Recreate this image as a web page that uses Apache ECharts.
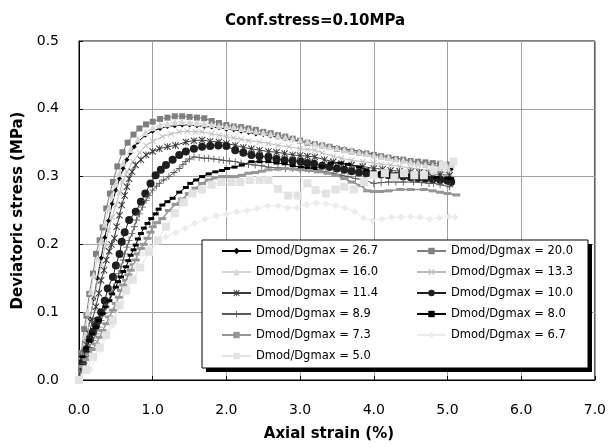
<!DOCTYPE html>
<html><head><meta charset="utf-8">
<script src="https://cdn.jsdelivr.net/npm/echarts@6/dist/echarts.min.js"></script>
<style>html,body{margin:0;padding:0;background:#fff}#c{width:609px;height:447px}</style>
</head><body><div id="c"></div>
<script>
// ---------- DATA ----------
const titleText = 'Conf.stress=0.10MPa';
const xAxisTitle = 'Axial strain (%)';
const yAxisTitle = 'Deviatoric stress (MPa)';
const xTicks = [0, 1, 2, 3, 4, 5, 6, 7];
const yTicks = [0, 0.1, 0.2, 0.3, 0.4, 0.5];
const seriesNames = ['Dmod/Dgmax = 26.7','Dmod/Dgmax = 20.0','Dmod/Dgmax = 16.0','Dmod/Dgmax = 13.3',
  'Dmod/Dgmax = 11.4','Dmod/Dgmax = 10.0','Dmod/Dgmax = 8.9','Dmod/Dgmax = 8.0',
  'Dmod/Dgmax = 7.3','Dmod/Dgmax = 6.7','Dmod/Dgmax = 5.0'];

const s26_7 = [[0,0],[0.05,0.03],[0.1,0.06],[0.15,0.09],[0.2,0.12],[0.25,0.15],[0.3,0.18],[0.35,0.21],[0.4,0.235],[0.45,0.26],[0.5,0.28],[0.55,0.297],[0.6,0.312],[0.65,0.325],[0.7,0.335],[0.75,0.344],[0.8,0.351],[0.9,0.361],[1.0,0.367],[1.1,0.371],[1.2,0.374],[1.3,0.375],[1.4,0.376],[1.5,0.376],[1.6,0.375],[1.7,0.374],[1.8,0.373],[1.9,0.372],[2.0,0.37],[2.1,0.369],[2.2,0.367],[2.3,0.365],[2.4,0.363],[2.5,0.362],[2.6,0.36],[2.7,0.358],[2.8,0.356],[2.9,0.354],[3.0,0.352],[3.1,0.35],[3.2,0.348],[3.3,0.347],[3.4,0.345],[3.5,0.343],[3.6,0.341],[3.7,0.339],[3.8,0.337],[3.9,0.335],[4.0,0.333],[4.1,0.331],[4.2,0.329],[4.3,0.327],[4.4,0.325],[4.5,0.323],[4.6,0.321],[4.7,0.319],[4.8,0.317],[4.9,0.315],[5.0,0.313],[5.05,0.311]];
const s20_0 = [[0,0],[0.03,0.04],[0.07,0.075],[0.1,0.095],[0.14,0.127],[0.19,0.157],[0.23,0.186],[0.28,0.206],[0.32,0.225],[0.37,0.253],[0.42,0.275],[0.46,0.292],[0.52,0.315],[0.59,0.336],[0.66,0.35],[0.74,0.362],[0.82,0.371],[0.91,0.377],[1.0,0.381],[1.1,0.385],[1.2,0.387],[1.3,0.389],[1.4,0.389],[1.5,0.388],[1.6,0.387],[1.7,0.386],[1.8,0.382],[1.9,0.379],[2.0,0.376],[2.1,0.374],[2.2,0.373],[2.3,0.371],[2.4,0.369],[2.5,0.366],[2.6,0.364],[2.7,0.361],[2.8,0.359],[2.9,0.356],[3.0,0.353],[3.1,0.35],[3.2,0.348],[3.3,0.346],[3.4,0.344],[3.5,0.341],[3.6,0.339],[3.7,0.337],[3.8,0.335],[3.9,0.334],[4.0,0.332],[4.1,0.33],[4.2,0.328],[4.3,0.326],[4.4,0.325],[4.5,0.323],[4.6,0.322],[4.7,0.321],[4.8,0.32],[4.9,0.319],[5.0,0.318],[5.05,0.317]];
const s16_0 = [[0,0],[0.04,0.035],[0.08,0.065],[0.12,0.1],[0.16,0.13],[0.2,0.155],[0.25,0.18],[0.3,0.205],[0.35,0.23],[0.4,0.253],[0.45,0.272],[0.5,0.29],[0.55,0.305],[0.6,0.32],[0.7,0.34],[0.8,0.355],[0.9,0.365],[1.0,0.372],[1.1,0.376],[1.2,0.378],[1.3,0.38],[1.4,0.381],[1.5,0.38],[1.6,0.379],[1.7,0.378],[1.8,0.377],[1.9,0.375],[2.0,0.374],[2.1,0.373],[2.2,0.371],[2.3,0.369],[2.4,0.367],[2.5,0.365],[2.6,0.363],[2.7,0.36],[2.8,0.358],[2.9,0.356],[3.0,0.354],[3.1,0.352],[3.2,0.349],[3.3,0.347],[3.4,0.344],[3.5,0.342],[3.6,0.34],[3.7,0.338],[3.8,0.336],[3.9,0.334],[4.0,0.332],[4.1,0.33],[4.2,0.328],[4.3,0.326],[4.4,0.324],[4.5,0.322],[4.6,0.32],[4.7,0.318],[4.8,0.316],[4.9,0.315],[5.0,0.314],[5.05,0.318]];
const s13_3 = [[0,0],[0.05,0.03],[0.1,0.06],[0.15,0.09],[0.2,0.12],[0.25,0.145],[0.3,0.17],[0.35,0.195],[0.4,0.22],[0.45,0.24],[0.5,0.258],[0.55,0.276],[0.59,0.292],[0.65,0.307],[0.73,0.322],[0.82,0.335],[0.91,0.346],[1.0,0.352],[1.13,0.359],[1.25,0.363],[1.36,0.366],[1.47,0.367],[1.58,0.366],[1.67,0.366],[1.8,0.363],[1.9,0.361],[2.0,0.359],[2.1,0.357],[2.2,0.355],[2.3,0.353],[2.45,0.351],[2.57,0.349],[2.7,0.346],[2.85,0.344],[3.0,0.341],[3.1,0.34],[3.2,0.339],[3.3,0.335],[3.45,0.33],[3.56,0.327],[3.7,0.324],[3.85,0.322],[4.0,0.32],[4.1,0.318],[4.23,0.317],[4.35,0.315],[4.5,0.313],[4.6,0.311],[4.75,0.309],[4.9,0.307],[5.03,0.305]];
const s11_4 = [[0,0],[0.05,0.034],[0.1,0.052],[0.14,0.068],[0.18,0.088],[0.23,0.108],[0.27,0.128],[0.3,0.147],[0.34,0.162],[0.37,0.177],[0.41,0.19],[0.44,0.2],[0.48,0.209],[0.51,0.226],[0.55,0.243],[0.58,0.258],[0.62,0.272],[0.65,0.285],[0.68,0.297],[0.72,0.307],[0.77,0.317],[0.84,0.325],[0.91,0.332],[1.0,0.337],[1.09,0.341],[1.2,0.344],[1.31,0.346],[1.45,0.351],[1.56,0.353],[1.67,0.354],[1.78,0.352],[1.9,0.351],[2.0,0.349],[2.12,0.346],[2.23,0.343],[2.34,0.341],[2.45,0.339],[2.57,0.337],[2.68,0.336],[2.79,0.334],[2.9,0.332],[3.0,0.331],[3.1,0.33],[3.2,0.329],[3.33,0.325],[3.45,0.322],[3.56,0.319],[3.7,0.317],[3.85,0.315],[4.0,0.312],[4.12,0.311],[4.23,0.309],[4.35,0.308],[4.5,0.307],[4.62,0.306],[4.75,0.305],[4.9,0.303],[5.03,0.302]];
const s10_0 = [[0,0],[0.05,0.025],[0.1,0.045],[0.15,0.06],[0.19,0.071],[0.23,0.08],[0.26,0.088],[0.3,0.1],[0.35,0.117],[0.39,0.135],[0.46,0.152],[0.5,0.169],[0.55,0.186],[0.58,0.204],[0.62,0.218],[0.68,0.236],[0.77,0.248],[0.84,0.263],[0.9,0.275],[0.97,0.29],[1.04,0.302],[1.11,0.31],[1.18,0.317],[1.27,0.325],[1.36,0.332],[1.45,0.337],[1.56,0.341],[1.67,0.344],[1.78,0.345],[1.89,0.346],[2.0,0.345],[2.12,0.339],[2.23,0.335],[2.34,0.332],[2.45,0.33],[2.57,0.329],[2.68,0.326],[2.79,0.324],[2.9,0.323],[3.01,0.322],[3.1,0.32],[3.19,0.319],[3.3,0.316],[3.4,0.314],[3.5,0.312],[3.6,0.31],[3.7,0.308],[3.8,0.306],[3.9,0.305],[4.0,0.304],[4.1,0.303],[4.2,0.302],[4.3,0.301],[4.4,0.3],[4.5,0.299],[4.6,0.298],[4.7,0.297],[4.8,0.296],[4.9,0.295],[5.0,0.294],[5.05,0.292]];
const s8_9 = [[0,0],[0.03,0.015],[0.07,0.025],[0.1,0.035],[0.14,0.048],[0.19,0.058],[0.23,0.068],[0.27,0.078],[0.3,0.088],[0.34,0.098],[0.37,0.108],[0.41,0.118],[0.44,0.127],[0.47,0.137],[0.5,0.147],[0.54,0.157],[0.57,0.167],[0.6,0.177],[0.62,0.186],[0.65,0.196],[0.68,0.206],[0.72,0.216],[0.75,0.226],[0.78,0.236],[0.82,0.245],[0.86,0.255],[0.91,0.265],[0.95,0.272],[1.0,0.28],[1.05,0.286],[1.09,0.29],[1.15,0.295],[1.22,0.3],[1.29,0.306],[1.36,0.312],[1.41,0.318],[1.45,0.322],[1.5,0.326],[1.56,0.329],[1.63,0.328],[1.7,0.327],[1.76,0.327],[1.83,0.326],[1.9,0.325],[1.96,0.324],[2.04,0.323],[2.12,0.322],[2.2,0.32],[2.3,0.318],[2.39,0.317],[2.48,0.316],[2.57,0.314],[2.7,0.313],[2.8,0.312],[2.9,0.312],[3.0,0.311],[3.12,0.31],[3.24,0.31],[3.35,0.307],[3.45,0.305],[3.56,0.302],[3.65,0.3],[3.75,0.297],[3.87,0.295],[4.0,0.29],[4.1,0.291],[4.2,0.292],[4.3,0.292],[4.4,0.292],[4.54,0.292],[4.65,0.291],[4.75,0.29],[4.81,0.29],[4.9,0.288],[5.03,0.285]];
const s8_0 = [[0,0],[0.05,0.034],[0.1,0.047],[0.14,0.058],[0.18,0.068],[0.23,0.078],[0.27,0.088],[0.32,0.098],[0.36,0.108],[0.41,0.117],[0.45,0.127],[0.5,0.137],[0.53,0.145],[0.57,0.152],[0.6,0.16],[0.64,0.167],[0.67,0.176],[0.7,0.184],[0.74,0.192],[0.77,0.199],[0.8,0.208],[0.84,0.216],[0.88,0.224],[0.93,0.231],[0.98,0.238],[1.04,0.245],[1.08,0.252],[1.13,0.258],[1.2,0.263],[1.27,0.268],[1.36,0.277],[1.45,0.284],[1.51,0.29],[1.59,0.295],[1.67,0.3],[1.76,0.304],[1.85,0.307],[1.94,0.309],[2.01,0.312],[2.11,0.314],[2.21,0.317],[2.34,0.322],[2.45,0.322],[2.57,0.322],[2.68,0.32],[2.79,0.319],[2.9,0.316],[3.01,0.314],[3.1,0.313],[3.19,0.312],[3.3,0.315],[3.42,0.32],[3.55,0.32],[3.65,0.318],[3.8,0.314],[3.9,0.31],[4.0,0.306],[4.1,0.305],[4.25,0.303],[4.4,0.302],[4.55,0.301],[4.7,0.3],[4.85,0.299],[5.0,0.298],[5.05,0.297]];
const s7_3 = [[0,0],[0.05,0.02],[0.1,0.03],[0.14,0.038],[0.19,0.045],[0.23,0.053],[0.28,0.063],[0.32,0.073],[0.37,0.083],[0.41,0.093],[0.46,0.103],[0.5,0.113],[0.54,0.122],[0.57,0.132],[0.6,0.14],[0.64,0.147],[0.67,0.155],[0.7,0.162],[0.74,0.17],[0.77,0.177],[0.8,0.186],[0.84,0.194],[0.88,0.2],[0.93,0.209],[0.97,0.218],[1.0,0.226],[1.06,0.232],[1.13,0.238],[1.22,0.25],[1.31,0.259],[1.4,0.267],[1.49,0.275],[1.58,0.283],[1.67,0.29],[1.76,0.295],[1.85,0.298],[1.94,0.3],[2.03,0.3],[2.12,0.3],[2.21,0.302],[2.3,0.305],[2.39,0.306],[2.48,0.308],[2.57,0.31],[2.7,0.311],[2.79,0.312],[2.9,0.311],[3.01,0.31],[3.12,0.309],[3.24,0.307],[3.37,0.305],[3.48,0.302],[3.6,0.297],[3.7,0.292],[3.82,0.287],[3.91,0.279],[4.0,0.278],[4.09,0.278],[4.2,0.279],[4.36,0.281],[4.5,0.281],[4.68,0.281],[4.8,0.279],[4.9,0.277],[5.0,0.275],[5.12,0.273]];
const s6_7 = [[0,0],[0.15,0.015],[0.3,0.045],[0.45,0.08],[0.58,0.115],[0.68,0.145],[0.77,0.168],[0.86,0.186],[0.95,0.196],[1.06,0.203],[1.18,0.211],[1.31,0.217],[1.44,0.224],[1.57,0.231],[1.71,0.237],[1.86,0.242],[2.0,0.245],[2.14,0.248],[2.28,0.25],[2.42,0.253],[2.56,0.257],[2.7,0.257],[2.83,0.254],[2.96,0.254],[3.09,0.259],[3.22,0.261],[3.35,0.26],[3.48,0.257],[3.61,0.254],[3.74,0.248],[3.86,0.239],[3.98,0.235],[4.11,0.237],[4.24,0.24],[4.37,0.24],[4.5,0.241],[4.63,0.24],[4.76,0.237],[4.89,0.239],[5.02,0.241],[5.1,0.24]];
const s5_0 = [[0,0],[0.1,0.015],[0.19,0.034],[0.28,0.048],[0.37,0.066],[0.46,0.088],[0.55,0.11],[0.64,0.132],[0.73,0.148],[0.83,0.166],[0.95,0.189],[1.07,0.206],[1.18,0.226],[1.3,0.246],[1.42,0.262],[1.54,0.275],[1.67,0.281],[1.8,0.288],[1.93,0.292],[2.07,0.292],[2.19,0.292],[2.32,0.295],[2.45,0.295],[2.57,0.295],[2.7,0.282],[2.84,0.272],[2.97,0.272],[3.1,0.29],[3.21,0.28],[3.35,0.275],[3.48,0.281],[3.6,0.285],[3.73,0.281],[3.87,0.292],[4.0,0.302],[4.15,0.305],[4.28,0.299],[4.41,0.305],[4.55,0.302],[4.68,0.302],[4.81,0.31],[4.94,0.317],[5.08,0.322]];

const seriesData = [s26_7, s20_0, s16_0, s13_3, s11_4, s10_0, s8_9, s8_0, s7_3, s6_7, s5_0];

// ---------- STYLE ----------
const FONT = 'DejaVu Sans';
const X_SYM = 'path://M0,1L1,0L5,4L9,0L10,1L6,5L10,9L9,10L5,6L1,10L0,9L4,5Z';
const STAR_SYM = 'path://M0,1L1,0L5,4L9,0L10,1L6,5L10,9L9,10L5,6L1,10L0,9L4,5ZM4.4,0H5.6V10H4.4Z';
const PLUS_SYM = 'path://M4.4,0H5.6V10H4.4ZM0,4.4H10V5.6H0Z';
const looks = [
  {color:'#000000', symbol:'diamond', size:5, lw:1},
  {color:'#7f7f7f', symbol:'rect', size:6, lw:1},
  {color:'#d6d6d6', symbol:'triangle', size:7, lw:1},
  {color:'#bdbdbd', symbol:X_SYM, size:6, lw:1},
  {color:'#3a3a3a', symbol:STAR_SYM, size:7, lw:1},
  {color:'#1e1e1e', symbol:'circle', size:8, lw:1},
  {color:'#5a5a5a', symbol:PLUS_SYM, size:7, lw:1},
  {color:'#000000', symbol:'rect', size:[6,3], lw:1},
  {color:'#969696', symbol:'rect', size:[8,3], lw:1.5},
  {color:'#ececec', symbol:'diamond', size:7, lw:1},
  {color:'#e3e3e3', symbol:'rect', size:8, lw:1}
];

const series = seriesNames.map((n, i) => ({
  name: n, type: 'line', data: seriesData[i],
  symbol: looks[i].symbol, symbolSize: looks[i].size, showSymbol: true,
  lineStyle: {color: looks[i].color, width: looks[i].lw},
  itemStyle: {color: looks[i].color},
  emphasis: {disabled: true}, animation: false, z: 2
}));

const legendCommon = {
  orient: 'vertical', padding: 0, itemWidth: 29, itemHeight: 8, itemGap: 9,
  top: 245, z: 10, selectedMode: false,
  textStyle: {fontFamily: FONT, fontSize: 11.5, color: '#000'}
};

const chart = echarts.init(document.getElementById('c'), null, {renderer: 'canvas'});
chart.setOption({
  backgroundColor: '#fff',
  animation: false,
  title: {text: titleText, left: 225, top: 14, padding: 0,
    textStyle: {fontFamily: FONT, fontSize: 15, fontWeight: 'bold', color: '#000'}},
  grid: {left: 79, right: 10, top: 41, bottom: 67, show: true, borderColor: '#000', borderWidth: 1, backgroundColor: 'transparent'},
  xAxis: {
    type: 'value', min: xTicks[0], max: xTicks[xTicks.length-1], interval: 1,
    name: xAxisTitle, nameLocation: 'middle', nameGap: 47,
    nameTextStyle: {fontFamily: FONT, fontSize: 15, fontWeight: 'bold', color: '#000', padding: [0, 16, 0, 0]},
    axisLine: {show: true, lineStyle: {color: '#000', width: 1}},
    axisTick: {show: true, inside: true, length: 4, lineStyle: {color: '#000'}},
    axisLabel: {margin: 23, fontFamily: FONT, fontSize: 14, color: '#000', formatter: v => v.toFixed(1)},
    splitLine: {show: true, lineStyle: {color: '#a0a0a0', width: 1}}
  },
  yAxis: {
    type: 'value', min: yTicks[0], max: yTicks[yTicks.length-1], interval: 0.1,
    name: yAxisTitle, nameLocation: 'middle', nameGap: 52, nameRotate: 90,
    nameTextStyle: {fontFamily: FONT, fontSize: 15, fontWeight: 'bold', color: '#000'},
    axisLine: {show: true, lineStyle: {color: '#000', width: 1}},
    axisTick: {show: true, inside: true, length: 4, lineStyle: {color: '#000'}},
    axisLabel: {margin: 20, fontFamily: FONT, fontSize: 14, color: '#000', formatter: v => v.toFixed(1)},
    splitLine: {show: true, lineStyle: {color: '#a0a0a0', width: 1}}
  },
  legend: [
    Object.assign({}, legendCommon, {left: 221, data: [0,2,4,6,8,10].map(i => seriesNames[i])}),
    Object.assign({}, legendCommon, {left: 416, data: [1,3,5,7,9].map(i => seriesNames[i])})
  ],
  graphic: [
    {type: 'rect', shape: {x: 206, y: 244, width: 386, height: 128}, style: {fill: '#000'}, z: 7},
    {type: 'rect', shape: {x: 202, y: 240, width: 386, height: 128}, style: {fill: '#fff', stroke: '#000', lineWidth: 1}, z: 8}
  ],
  series: series
});
</script>
</body></html>
